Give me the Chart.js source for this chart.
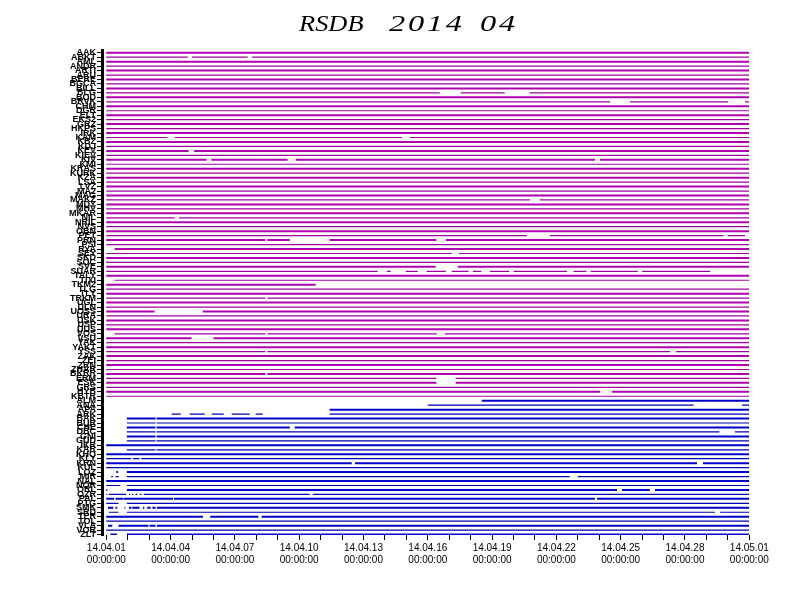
<!DOCTYPE html>
<html>
<head>
<meta charset="utf-8">
<script src="https://cdn.jsdelivr.net/npm/chart.js@4.4.1/dist/chart.umd.min.js"></script>
<style>
  html, body { margin: 0; background: #fff; }
  #wrap { width: 792px; height: 612px; }
</style>
</head>
<body>
<div id="wrap"><canvas id="chart"></canvas></div>
<script>
// stations, top to bottom; first network drawn magenta, second blue
const stationsA = ['AAK','ABKT','AML','ANDR','ARTI','ARU','BERE','BGCA','BILL','BLG','BOD','BRVK','CHM','DGR','ELT','EKS2',
  'GRZ','HKPS','IRK','KAM','KBZ','KDJ','KEV','KIEV','KIV','KMI','KRAS','KURK','KZA','LSA','LVZ','MA2','MAG','MAKZ','MDY',
  'MHV','MKAR','NIL','NRIL','NVS','OBN','PET','PRN','PSI','RYA','SEY','SKD','SOC','SVE','SUAR','TALY','TIXI','TKM2','TLG',
  'TLY','TRKM','UGL','ULN','UOSS','URA','USK','USP','UUS','VOS','VSU','YAK','YAKT','YSS','ZAK','ZEI','ZRN','ZHAR','BKRR',
  'ERM','ESK','GRS','HYB','KBTR']
const stationsB = ['ALM','ANA','APA','ARK','BAK','BUR','CHE','DBC','GNI','GUD','IKR','KAR','KHO','KLY','KRN','KUL','LOZ',
  'MIR','NAL','NOR','ORL','OZR','PAL','PTG','SMK','SRD','TER','TOL','VLA','VOR','ZLT']

// missing data, [from, to] in days after 2014-04-01 00:00, keyed by row within each network
const gapsA = {
  1: [[3.8, 4.0], [6.6, 6.8]],
  9: [[15.56, 16.54], [18.59, 19.76]],
  11: [[23.5, 24.43], [29.0, 29.8]],
  19: [[2.86, 3.2], [13.79, 14.16]],
  22: [[3.84, 4.1]],
  24: [[4.68, 4.9], [8.46, 8.84], [22.8, 23.04]],
  33: [[19.76, 20.22]],
  37: [[3.19, 3.4]],
  41: [[19.62, 20.69], [28.8, 29.0], [29.8, 30]],
  42: [[7.42, 7.52], [8.56, 10.42], [15.4, 15.84]],
  44: [[0, 0.39]],
  45: [[16.12, 16.45]],
  48: [[15.37, 16.4]],
  49: [[12.66, 13.09], [13.27, 13.97], [14.53, 14.95], [15.84, 16.12], [16.9, 17.1], [17.5, 17.9], [18.8, 19.0],
       [21.5, 21.8], [22.4, 22.6], [24.8, 25.0], [28.17, 30]],
  51: [[0, 0.39]],
  52: [[9.77, 30]],
  55: [[7.42, 7.52]],
  58: [[2.25, 4.5]],
  63: [[0, 0.39], [7.42, 7.52], [15.42, 15.8]],
  64: [[3.98, 5.0]],
  67: [[7.42, 7.52], [26.3, 26.58]],
  72: [[7.42, 7.52]],
  73: [[15.4, 16.3]],
  74: [[15.4, 16.3]],
  76: [[23.04, 23.6]]
}
const gapsB = {
  0: [[0, 17.52]],
  1: [[0, 15.0], [27.4, 29.66]],
  2: [[0, 10.42]],
  3: [[0, 3.05], [3.47, 3.89], [4.59, 4.92], [5.48, 5.85], [6.69, 6.97], [7.3, 10.42]],
  4: [[0, 0.96], [2.3, 2.35]],
  5: [[0, 0.96], [2.3, 2.35]],
  6: [[0, 0.96], [2.3, 2.35], [8.56, 8.79]],
  7: [[0, 0.96], [2.3, 2.35], [28.6, 29.33]],
  8: [[0, 0.96], [2.3, 2.35]],
  9: [[0, 0.96], [2.3, 2.35]],
  11: [[0, 0.96], [2.3, 2.35]],
  13: [[1.17, 1.24], [1.55, 1.63]],
  14: [[11.45, 11.6], [27.56, 27.84]],
  16: [[0, 0.47], [0.55, 0.96]],
  17: [[0, 0.23], [0.31, 0.43], [0.58, 0.96], [21.62, 22.0]],
  19: [[0.65, 0.96]],
  20: [[0.05, 0.96], [23.83, 24.06], [25.36, 25.6]],
  21: [[0.05, 0.12], [0.93, 1.06], [1.12, 1.2], [1.26, 1.37], [1.45, 1.56], [1.64, 1.75], [9.49, 9.63]],
  22: [[0.36, 0.43], [0.78, 0.8], [3.11, 3.16], [22.8, 22.9]],
  23: [[0.57, 0.96]],
  24: [[0, 0.08], [0.33, 0.43], [0.51, 0.85], [0.89, 1.06], [1.17, 1.21], [1.55, 1.71], [1.77, 1.91], [2.07, 2.15], [2.3, 2.36]],
  25: [[0.03, 0.12], [0.57, 0.96], [28.4, 28.64]],
  26: [[4.51, 4.85], [7.1, 7.25]],
  28: [[0, 0.08], [0.28, 0.57], [1.97, 2.02], [2.3, 2.36]],
  30: [[0.03, 0.19], [0.5, 0.96]]
}
const days = 30

const names = stationsA.concat(stationsB)

function segments(gaps) {
  const segs = []
  let s = 0
  for (const [a, b] of gaps) {
    if (a > s) segs.push([s, a])
    s = Math.max(s, b)
  }
  if (s < days) segs.push([s, days])
  return segs
}

const datasets = names.map((name, i) => {
  const inA = i < stationsA.length
  const gaps = inA ? (gapsA[i] || []) : (gapsB[i - stationsA.length] || [])
  const pts = []
  segments(gaps).forEach(([a, b]) => {
    pts.push({ x: a, y: i }, { x: b, y: i }, { x: b, y: null })
  })
  const thick = i % 2 === 0
  return {
    label: name,
    data: pts,
    showLine: true,
    spanGaps: false,
    pointRadius: 0,
    borderCapStyle: 'butt',
    borderWidth: thick ? 2 : 1.2,
    borderColor: inA ? (thick ? '#b000b0' : '#a000a0') : (thick ? '#0000cc' : '#0000b4')
  }
})

function dateLabel(v) {
  const d = new Date(2014, 3, 1 + v)
  const p = n => String(n).padStart(2, '0')
  return [p(d.getFullYear() % 100) + '.' + p(d.getMonth() + 1) + '.' + p(d.getDate()), '00:00:00']
}

// title drawn with wide glyphs like the original plotter font
const titlePlugin = {
  id: 'plotTitle',
  afterDraw(chart) {
    const ctx = chart.ctx
    const put = (text, x, sx, ls) => {
      ctx.save()
      ctx.translate(x, 31)
      ctx.scale(sx, 1)
      ctx.letterSpacing = ls + 'px'
      ctx.fillText(text, 0, 0)
      ctx.restore()
    }
    ctx.save()
    ctx.fillStyle = '#000'
    ctx.font = 'italic 24px "Liberation Serif"'
    ctx.textBaseline = 'alphabetic'
    put('RSDB', 299, 1.1, 0)
    put('2014', 389, 1.35, 2)
    put('04', 480, 1.35, 2)
    ctx.restore()
  }
}

new Chart(document.getElementById('chart'), {
  type: 'scatter',
  data: { datasets },
  plugins: [titlePlugin],
  options: {
    responsive: true,
    maintainAspectRatio: false,
    animation: false,
    events: [],
    layout: { padding: { top: 50.5, right: 42.7, left: 0, bottom: 0 } },
    plugins: { legend: { display: false }, tooltip: { enabled: false }, title: { display: false } },
    scales: {
      x: {
        type: 'linear',
        min: -0.2,
        max: days,
        afterFit: s => { s.height = 77 },
        afterBuildTicks: s => { s.ticks = s.ticks.filter(t => Number.isInteger(t.value)) },
        border: { display: false },
        grid: { drawOnChartArea: false, drawTicks: true, tickLength: 5, color: '#000' },
        ticks: {
          stepSize: 1,
          includeBounds: false,
          autoSkip: false,
          maxRotation: 0,
          padding: 2,
          color: '#000',
          font: { family: '"Liberation Sans", Arial, sans-serif', size: 10 },
          callback: v => (Number.isInteger(v) && v % 3 === 0) ? dateLabel(v) : ''
        }
      },
      y: {
        type: 'linear',
        reverse: true,
        min: -0.5,
        max: names.length - 0.9,
        afterFit: s => { s.width = 102 },
        afterBuildTicks: s => { s.ticks = s.ticks.filter(t => Number.isInteger(t.value)) },
        border: { display: true, color: '#000', width: 3 },
        grid: { drawOnChartArea: false, drawTicks: true, tickLength: 5, color: '#000' },
        ticks: {
          stepSize: 1,
          includeBounds: false,
          autoSkip: false,
          padding: 1,
          color: '#000',
          font: { family: '"Liberation Sans", Arial, sans-serif', size: 9, weight: 'bold' },
          callback: v => names[v] || ''
        }
      }
    }
  }
})
</script>
</body>
</html>
